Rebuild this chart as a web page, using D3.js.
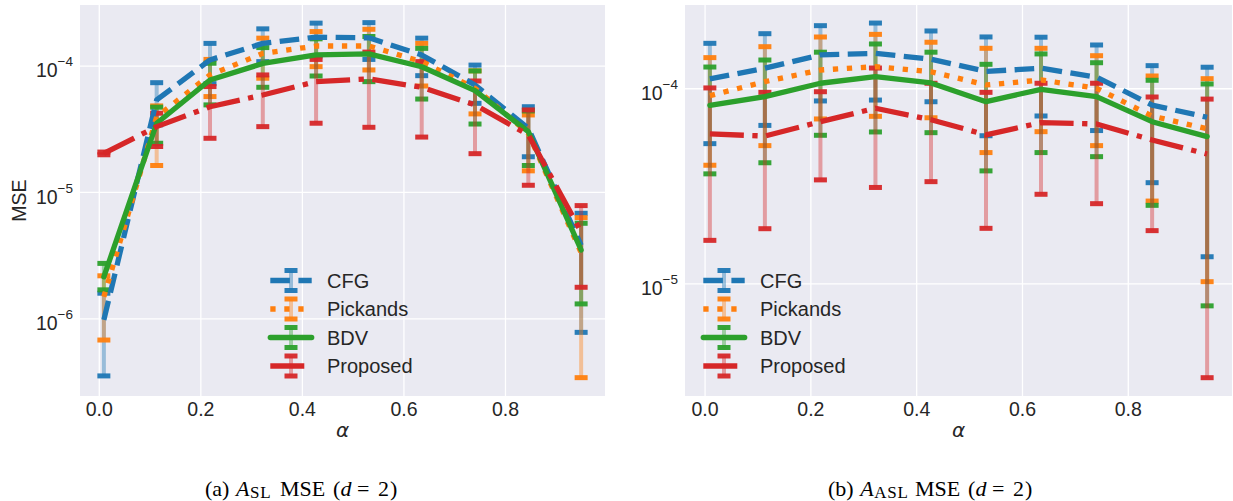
<!DOCTYPE html>
<html>
<head>
<meta charset="utf-8">
<script src="https://cdn.jsdelivr.net/npm/d3@7"></script>
<style>
body { margin: 0; background: #fff; }
</style>
</head>
<body>
<div id="chart"></div>
<script>
// alpha values (x axis), shared by both panels
var alphas = [0.01, 0.114, 0.219, 0.323, 0.428, 0.532, 0.636, 0.741, 0.846, 0.95];

var methods = ["CFG", "Pickands", "BDV", "Proposed"];

// panel (a): A_SL MSE -- mean, lower cap, upper cap
var cfgA    = [9.7e-7, 5.35e-5, 1.11e-4, 1.50e-4, 1.68e-4, 1.66e-4, 1.215e-4, 7.03e-5, 3.19e-5, 3.78e-6];
var cfgALo  = [3.5e-7, 3.4e-5, 7.2e-5, 1.076e-4, 1.19e-4, 1.12e-4, 8.33e-5, 5.03e-5, 1.9e-5, 7.74e-7];
var cfgAHi  = [1.58e-6, 7.33e-5, 1.50e-4, 1.955e-4, 2.17e-4, 2.19e-4, 1.65e-4, 1.01e-4, 4.73e-5, 6.78e-6];
var pickA   = [1.48e-6, 3.93e-5, 8.44e-5, 1.25e-4, 1.43e-4, 1.43e-4, 1.076e-4, 6.62e-5, 2.92e-5, 3.3e-6];
var pickALo = [6.73e-7, 1.62e-5, 5.69e-5, 7.95e-5, 9.82e-5, 9.24e-5, 6.9e-5, 4.15e-5, 1.47e-5, 3.39e-7];
var pickAHi = [2.17e-6, 4.8e-5, 1.12e-4, 1.65e-4, 1.86e-4, 1.94e-4, 1.50e-4, 9.09e-5, 4.07e-5, 6.26e-6];
var bdvA    = [2.13e-6, 3.5e-5, 7.7e-5, 1.04e-4, 1.215e-4, 1.24e-4, 9.8e-5, 6.34e-5, 3.0e-5, 3.47e-6];
var bdvALo  = [1.68e-6, 2.43e-5, 4.89e-5, 6.74e-5, 8.28e-5, 7.47e-5, 5.44e-5, 3.45e-5, 1.62e-5, 1.3e-6];
var bdvAHi  = [2.72e-6, 4.69e-5, 1.045e-4, 1.39e-4, 1.63e-4, 1.70e-4, 1.37e-4, 9.08e-5, 4.38e-5, 5.65e-6];
var propA   = [2.02e-5, 3.29e-5, 4.73e-5, 5.86e-5, 7.47e-5, 7.85e-5, 6.74e-5, 4.89e-5, 2.83e-5, 4.82e-6];
var propALo = [1.97e-5, 2.29e-5, 2.66e-5, 3.29e-5, 3.5e-5, 3.25e-5, 2.72e-5, 2.01e-5, 1.13e-5, 1.76e-6];
var propAHi = [2.07e-5, 4.2e-5, 6.83e-5, 8.44e-5, 1.12e-4, 1.28e-4, 1.076e-4, 7.56e-5, 4.46e-5, 7.8e-6];

// panel (b): A_ASL MSE
var cfgB    = [1.116e-4, 1.267e-4, 1.483e-4, 1.51e-4, 1.41e-4, 1.22e-4, 1.267e-4, 1.14e-4, 8.2e-5, 7.1e-5];
var cfgBLo  = [5.2e-5, 6.45e-5, 8.61e-5, 8.7e-5, 8.53e-5, 5.71e-5, 7.21e-5, 6.07e-5, 3.28e-5, 1.368e-5];
var cfgBHi  = [1.70e-4, 1.905e-4, 2.094e-4, 2.16e-4, 1.967e-4, 1.833e-4, 1.827e-4, 1.667e-4, 1.306e-4, 1.282e-4];
var pickB   = [9.16e-5, 1.081e-4, 1.241e-4, 1.29e-4, 1.216e-4, 1.04e-4, 1.103e-4, 1.0e-4, 7.2e-5, 6.2e-5];
var pickBLo = [4.03e-5, 5.08e-5, 6.96e-5, 7.18e-5, 7.06e-5, 4.68e-5, 5.99e-5, 5.08e-5, 2.64e-5, 1.019e-5];
var pickBHi = [1.436e-4, 1.634e-4, 1.832e-4, 1.89e-4, 1.722e-4, 1.603e-4, 1.603e-4, 1.469e-4, 1.156e-4, 1.12e-4];
var bdvB    = [8.18e-5, 9.06e-5, 1.061e-4, 1.146e-4, 1.065e-4, 8.54e-5, 9.88e-5, 9.06e-5, 6.74e-5, 5.65e-5];
var bdvBLo  = [3.64e-5, 4.15e-5, 5.74e-5, 5.97e-5, 5.92e-5, 3.77e-5, 4.68e-5, 4.46e-5, 2.51e-5, 7.66e-6];
var bdvBHi  = [1.285e-4, 1.396e-4, 1.531e-4, 1.687e-4, 1.531e-4, 1.327e-4, 1.5e-4, 1.352e-4, 1.099e-4, 1.052e-4];
var propB   = [5.83e-5, 5.69e-5, 6.74e-5, 7.9e-5, 6.9e-5, 5.77e-5, 6.67e-5, 6.56e-5, 5.43e-5, 4.6e-5];
var propBLo = [1.66e-5, 1.905e-5, 3.39e-5, 3.1e-5, 3.32e-5, 1.913e-5, 2.86e-5, 2.56e-5, 1.862e-5, 3.28e-6];
var propBHi = [1.004e-4, 9.53e-5, 9.6e-5, 1.27e-4, 1.061e-4, 9.53e-5, 1.061e-4, 1.061e-4, 9.02e-5, 8.8e-5];

var xTicks = [0, 0.2, 0.4, 0.6, 0.8];
var yTicksA = [1e-6, 1e-5, 1e-4];
var yTicksB = [1e-5, 1e-4];

var colors = ["#1f77b4", "#ff7f0e", "#2ca02c", "#d62728"];
var lw = 5.3;
var dashes = ["19.6,8.5", "5.3,8.7", null, "34,8.5,5.3,8.5"];
var plotTop = 5, plotBottom = 396;   // same vertical extent for both panels
var tickFont = "'Liberation Sans', Arial, sans-serif";
var serif = "'Liberation Serif', 'Times New Roman', serif";

var svg = d3.select("#chart").append("svg")
    .attr("width", 1233)
    .attr("height", 501);

function drawPanel(p) {
    var g = svg.append("g");
    var x = d3.scaleLinear().domain([-0.037, 0.997]).range([p.left, p.right]);
    var y = d3.scaleLog().domain([Math.pow(10, p.yLow), Math.pow(10, p.yHigh)]).range([plotBottom, plotTop]);

    g.append("rect")
        .attr("x", p.left).attr("y", plotTop)
        .attr("width", p.right - p.left).attr("height", plotBottom - plotTop)
        .attr("fill", "#eaeaf2");

    // x axis + vertical grid
    var xa = g.append("g")
        .attr("transform", "translate(0," + plotBottom + ")")
        .call(d3.axisBottom(x).tickValues(xTicks).tickSize(-(plotBottom - plotTop)).tickPadding(6).tickFormat(d3.format(".1f")));
    // y axis + horizontal grid
    var ya = g.append("g")
        .attr("transform", "translate(" + p.left + ",0)")
        .call(d3.axisLeft(y).tickValues(p.yTicks).tickSize(-(p.right - p.left)).tickPadding(7).tickFormat(""));

    [xa, ya].forEach(function(a) {
        a.select(".domain").remove();
        a.selectAll(".tick line").attr("stroke", "#fff").attr("stroke-width", 1.3);
        a.selectAll("text").attr("fill", "#262626").style("font-family", tickFont).style("font-size", "19.5px");
    });
    ya.selectAll(".tick text").each(function(d) {
        var t = d3.select(this).attr("dy", "11.3px");
        t.text("10");
        t.append("tspan").attr("dy", "-11px").style("font-size", "13.5px")
            .text("\u2212" + Math.round(-Math.log10(d)));
    });

    var clipId = "clip" + p.id;
    svg.append("clipPath").attr("id", clipId).append("rect")
        .attr("x", p.left).attr("y", plotTop).attr("width", p.right - p.left).attr("height", plotBottom - plotTop);
    var plot = g.append("g").attr("clip-path", "url(#" + clipId + ")");

    // error bars and caps first
    p.series.forEach(function(s, k) {
        var pts = alphas.map(function(a, i) { return {a: a, m: s.mean[i], lo: s.lo[i], hi: s.hi[i]}; });
        var eg = plot.append("g");
        eg.selectAll("line.bar").data(pts).enter().append("line")
            .attr("x1", function(d) { return x(d.a); }).attr("x2", function(d) { return x(d.a); })
            .attr("y1", function(d) { return y(d.lo); }).attr("y2", function(d) { return y(d.hi); })
            .attr("stroke", colors[k]).attr("stroke-width", 4).attr("stroke-opacity", 0.4);
        ["lo", "hi"].forEach(function(key) {
            eg.selectAll("line.cap" + key).data(pts).enter().append("line")
                .attr("x1", function(d) { return x(d.a) - 6.5; }).attr("x2", function(d) { return x(d.a) + 6.5; })
                .attr("y1", function(d) { return y(d[key]); }).attr("y2", function(d) { return y(d[key]); })
                .attr("stroke", colors[k]).attr("stroke-width", 5).attr("stroke-opacity", 0.95);
        });
    });

    // mean lines on top
    var line = d3.line()
        .x(function(d, i) { return x(alphas[i]); })
        .y(function(d) { return y(d); });
    p.series.forEach(function(s, k) {
        plot.append("path")
            .datum(s.mean)
            .attr("d", line)
            .attr("fill", "none")
            .attr("stroke", colors[k])
            .attr("stroke-width", lw)
            .attr("stroke-dasharray", dashes[k])
            .attr("stroke-linecap", dashes[k] ? "butt" : "round")
            .attr("stroke-linejoin", "round");
    });

    // legend
    var leg = g.append("g");
    methods.forEach(function(name, k) {
        var cy = 280.5 + k * 28.5, cx = p.legX;
        leg.append("line").attr("x1", cx).attr("x2", cx).attr("y1", cy - 10).attr("y2", cy + 10)
            .attr("stroke", colors[k]).attr("stroke-width", 4).attr("stroke-opacity", 0.4);
        [-10, 10].forEach(function(o) {
            leg.append("line").attr("x1", cx - 6.5).attr("x2", cx + 6.5).attr("y1", cy + o).attr("y2", cy + o)
                .attr("stroke", colors[k]).attr("stroke-width", 5).attr("stroke-opacity", 0.95);
        });
        leg.append("line").attr("x1", cx - 20.7).attr("x2", cx + 20.7).attr("y1", cy).attr("y2", cy)
            .attr("stroke", colors[k]).attr("stroke-width", lw)
            .attr("stroke-dasharray", dashes[k])
            .attr("stroke-linecap", dashes[k] ? "butt" : "round");
        leg.append("text").attr("x", cx + 36).attr("y", cy + 7)
            .attr("fill", "#262626").style("font-family", tickFont).style("font-size", "20px")
            .text(name);
    });

    // x label
    g.append("text")
        .attr("x", (p.left + p.right) / 2).attr("y", 437)
        .attr("text-anchor", "middle")
        .attr("fill", "#262626")
        .style("font-family", "'DejaVu Sans', sans-serif").style("font-style", "italic").style("font-size", "20px")
        .text("\u03b1");

    // caption below the panel, set piece by piece like the LaTeX original
    var c0 = p.capX, sw = p.subExtra;
    var cap = svg.append("text")
        .attr("y", 495.5)
        .attr("fill", "#000")
        .style("font-family", serif)
        .style("font-size", "22px");
    cap.append("tspan").attr("x", c0).text(p.capLetter);
    cap.append("tspan").attr("x", c0 + 31 + p.letterExtra).style("font-style", "italic").text("A");
    cap.append("tspan").attr("x", c0 + 45 + p.letterExtra).attr("dy", 2)
        .style("font-size", "17px").style("letter-spacing", "0.8px").text(p.capSub);
    cap.append("tspan").attr("x", c0 + 75 + sw).attr("dy", -2).text("MSE");
    cap.append("tspan").attr("x", c0 + 128 + sw).text("(");
    cap.append("tspan").attr("x", c0 + 135.5 + sw).style("font-style", "italic").text("d");
    cap.append("tspan").attr("x", c0 + 152 + sw).text("=");
    cap.append("tspan").attr("x", c0 + 173 + sw).text("2");
    cap.append("tspan").attr("x", c0 + 185 + sw).text(")");
}

drawPanel({
    id: "A", left: 80, right: 605, yLow: -6.615, yHigh: -3.52, yTicks: yTicksA,
    legX: 291, capX: 205, capLetter: "(a)", capSub: "SL", letterExtra: 0, subExtra: 0,
    series: [
        {mean: cfgA, lo: cfgALo, hi: cfgAHi},
        {mean: pickA, lo: pickALo, hi: pickAHi},
        {mean: bdvA, lo: bdvALo, hi: bdvAHi},
        {mean: propA, lo: propALo, hi: propAHi}
    ]
});

drawPanel({
    id: "B", left: 685, right: 1232, yLow: -5.578, yHigh: -3.573, yTicks: yTicksB,
    legX: 724, capX: 828, capLetter: "(b)", capSub: "ASL", letterExtra: 1.2, subExtra: 12,
    series: [
        {mean: cfgB, lo: cfgBLo, hi: cfgBHi},
        {mean: pickB, lo: pickBLo, hi: pickBHi},
        {mean: bdvB, lo: bdvBLo, hi: bdvBHi},
        {mean: propB, lo: propBLo, hi: propBHi}
    ]
});

// y label on the left panel only
svg.append("text")
    .attr("transform", "translate(19,200.5) rotate(-90)")
    .attr("text-anchor", "middle")
    .attr("dy", "0.36em")
    .attr("fill", "#262626")
    .style("font-family", tickFont).style("font-size", "19.5px")
    .text("MSE");
</script>
</body>
</html>
